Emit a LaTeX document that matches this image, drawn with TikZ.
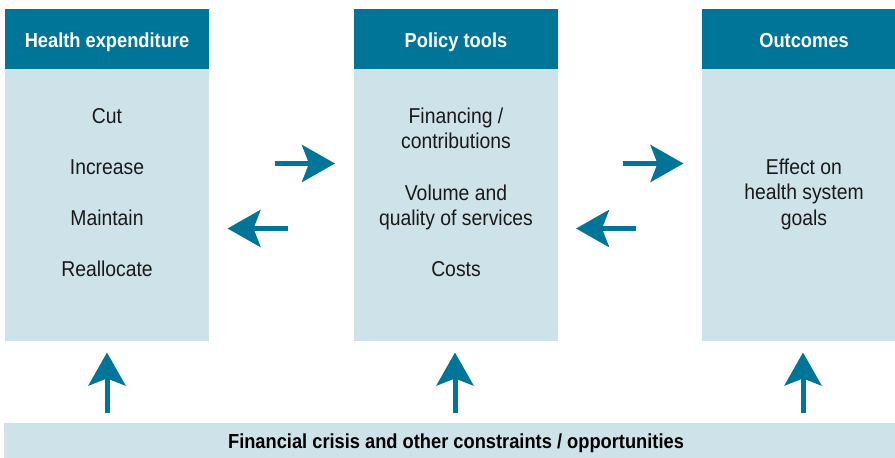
\documentclass[tikz,border=0pt]{standalone}
\usepackage{fontspec}
\setmainfont[FakeStretch=0.9]{Liberation Sans}
\usetikzlibrary{arrows.meta}
\definecolor{teal}{RGB}{0,117,152}
\definecolor{pale}{RGB}{206,227,233}
\definecolor{ink}{RGB}{25,25,25}
\tikzset{
  hdr/.style={fill=teal, draw=none, minimum width=204pt, minimum height=60pt, inner sep=0pt},
  hdrtext/.style={anchor=base, inner sep=0pt, text=white, font=\fontsize{20.3}{25}\selectfont\bfseries},
  bodybox/.style={fill=pale, draw=none, minimum width=204pt, minimum height=272pt, inner sep=0pt},
  item/.style={anchor=base, inner sep=0pt, text=ink, font=\fontsize{21.5}{25}\selectfont},
  bar/.style={fill=pale, draw=none, minimum width=910pt, minimum height=35pt, inner sep=0pt},
  bartext/.style={anchor=base, inner sep=0pt, text=black, font=\fontsize{20.3}{25}\selectfont\bfseries},
  flow/.style={draw=teal, line width=5pt, -{Stealth[length=33pt,width=37pt,inset=7pt]}}
}
\begin{document}
\begin{tikzpicture}[x=1pt,y=-1pt]
\useasboundingbox (0,0) rectangle (895,458);
\clip (0,0) rectangle (895,458);
% boxes
\node[bodybox] (b1) at (107,205) {};
\node[bodybox] (b2) at (456,205) {};
\node[bodybox] (b3) at (804,205) {};
\node[hdr] (h1) at (107,39) {};
\node[hdr] (h2) at (456,39) {};
\node[hdr] (h3) at (804,39) {};
\node[hdrtext] (t1) at (107,47) {Health expenditure};
\node[hdrtext] (t2) at (456,47) {Policy tools};
\node[hdrtext] (t3) at (804,47) {Outcomes};
\node[bar] (bar) at (459,440.5) {};
\node[bartext] (bt) at (456,448) {Financial crisis and other constraints / opportunities};
% box 1 items
\node[item] (c1) at (107,123.5) {Cut};
\node[item] (c2) at (107,174.5) {Increase};
\node[item] (c3) at (107,225.5) {Maintain};
\node[item] (c4) at (107,276.5) {Reallocate};
% box 2 items
\node[item] (p1) at (456,123.5) {Financing /};
\node[item] (p2) at (456,148.5) {contributions};
\node[item] (p3) at (456,200.5) {Volume and};
\node[item] (p4) at (456,225.5) {quality of services};
\node[item] (p5) at (456,276.5) {Costs};
% box 3 items
\node[item] (o1) at (804,174.5) {Effect on};
\node[item] (o2) at (804,199.5) {health system};
\node[item] (o3) at (804,225.5) {goals};
% arrow end points
\coordinate (r1s) at (275,163.5);
\coordinate (r1e) at (335,163.5);
\coordinate (l1s) at (288,228.5);
\coordinate (l1e) at (227.5,228.5);
\coordinate (r2s) at (623,163.5);
\coordinate (r2e) at (683.5,163.5);
\coordinate (l2s) at (636,228.5);
\coordinate (l2e) at (576,228.5);
\coordinate (u1s) at (107,413);
\coordinate (u1e) at (107,352.5);
\coordinate (u2s) at (455,413);
\coordinate (u2e) at (455,352.5);
\coordinate (u3s) at (803,413);
\coordinate (u3e) at (803,352.5);
\draw[flow] (r1s) -- (r1e);
\draw[flow] (l1s) -- (l1e);
\draw[flow] (r2s) -- (r2e);
\draw[flow] (l2s) -- (l2e);
\draw[flow] (u1s) -- (u1e);
\draw[flow] (u2s) -- (u2e);
\draw[flow] (u3s) -- (u3e);
\end{tikzpicture}
\end{document}
